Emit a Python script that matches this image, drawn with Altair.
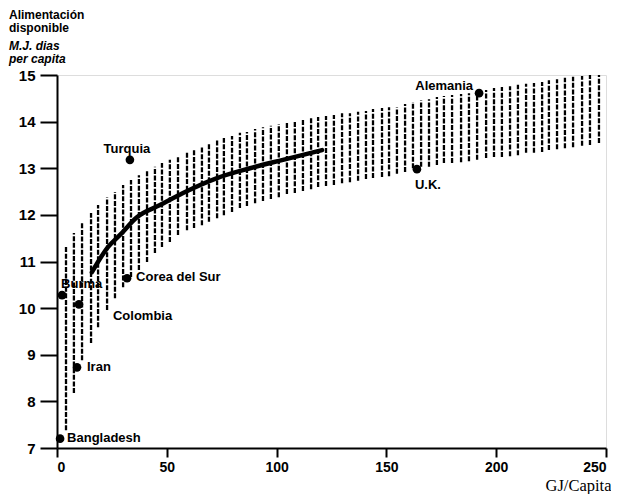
import altair as alt
import pandas as pd

# Hatched band: vertical strokes (x, lower, upper)
band_x = [4.1, 7.7, 11.4, 15.5, 18.7, 22.8, 26.4, 30.1, 33.7, 37.3, 41.0, 44.6, 47.8, 51.4,
          55.1, 59.2, 62.4, 66.0, 69.2, 72.9, 76.0, 79.7, 83.3, 86.5, 90.2, 93.8, 97.4, 101.0,
          104.7, 108.3, 112.0, 115.7, 118.9, 122.5, 126.1, 129.8, 133.4, 137.1, 140.7, 143.9,
          148.0, 151.2, 154.8, 158.5, 162.1, 165.8, 169.4, 173.0, 176.2, 179.9, 184.0, 187.6,
          191.3, 195.4, 199.0, 202.6, 206.3, 209.9, 213.6, 217.2, 220.9, 224.0, 227.7, 231.3,
          235.0, 239.1, 242.7, 246.8]
band_top = [11.31, 11.61, 11.82, 12.04, 12.21, 12.38, 12.49, 12.64, 12.75, 12.85, 12.94, 13.03,
            13.11, 13.18, 13.24, 13.33, 13.39, 13.45, 13.54, 13.61, 13.65, 13.69, 13.76, 13.78,
            13.84, 13.88, 13.91, 13.95, 13.97, 14.01, 14.06, 14.08, 14.10, 14.12, 14.14, 14.18,
            14.18, 14.21, 14.23, 14.27, 14.29, 14.31, 14.31, 14.38, 14.42, 14.46, 14.48, 14.53,
            14.55, 14.57, 14.59, 14.61, 14.64, 14.68, 14.72, 14.74, 14.76, 14.79, 14.81, 14.83,
            14.85, 14.89, 14.91, 14.94, 14.96, 14.98, 15.0, 15.0]
band_bottom = [7.38, 8.18, 8.88, 9.25, 9.59, 9.96, 10.21, 10.45, 10.67, 10.82, 10.99, 11.18,
               11.31, 11.42, 11.57, 11.67, 11.72, 11.78, 11.85, 11.93, 11.99, 12.06, 12.15, 12.19,
               12.25, 12.30, 12.34, 12.38, 12.45, 12.47, 12.51, 12.55, 12.60, 12.62, 12.64, 12.68,
               12.70, 12.73, 12.77, 12.79, 12.81, 12.83, 12.88, 12.92, 13.00, 13.03, 13.03, 13.07,
               13.11, 13.11, 13.13, 13.15, 13.18, 13.22, 13.24, 13.24, 13.26, 13.28, 13.33, 13.33,
               13.35, 13.39, 13.41, 13.43, 13.45, 13.48, 13.50, 13.54]

# Thick curve
curve_x = [15.9, 23.2, 28.7, 36.4, 46.9, 57.4, 72.9, 87.9, 102.9, 120.7]
curve_y = [10.77, 11.31, 11.57, 11.95, 12.21, 12.47, 12.79, 13.00, 13.18, 13.39]

# Countries
countries = ["Alemania", "U.K.", "Turquia", "Corea del Sur", "Burma", "Colombia", "Iran", "Bangladesh"]
country_x = [192.2, 163.9, 33.2, 31.9, 2.3, 10.0, 9.1, 1.4]
country_y = [14.61, 12.98, 13.18, 10.64, 10.28, 10.08, 8.73, 7.20]

x_ticks = [0, 50, 100, 150, 200, 250]
y_ticks = [7, 8, 9, 10, 11, 12, 13, 14, 15]

band_df = pd.DataFrame({"x": band_x, "lo": band_bottom, "hi": band_top})
curve_df = pd.DataFrame({"x": curve_x, "y": curve_y})
pts_df = pd.DataFrame({"name": countries, "x": country_x, "y": country_y})

xscale = alt.Scale(domain=[0, 250], nice=False, zero=False)
yscale = alt.Scale(domain=[7, 15], nice=False, zero=False)

xaxis = alt.Axis(values=x_ticks, title="GJ/Capita", titleFont="Liberation Serif",
                 titleFontSize=16.5, titleFontWeight="normal", titleColor="black",
                 titleAlign="right", titleAnchor="end", titleX=554, titleY=42,
                 titleBaseline="alphabetic", tickSize=9, labelPadding=3,
                 labelFont="Liberation Sans", labelFontSize=14, labelFontWeight="bold",
                 labelColor="black", domainColor="black", domainWidth=2,
                 tickColor="black", tickWidth=2, grid=False)
yaxis = alt.Axis(values=y_ticks, title=None, tickSize=17, labelPadding=5,
                 labelFont="Liberation Sans", labelFontSize=15, labelFontWeight="bold",
                 labelColor="black", domainColor="black", domainWidth=2,
                 tickColor="black", tickWidth=2, grid=False)

band = alt.Chart(band_df).mark_rule(color="black", strokeWidth=2.3, strokeDash=[5, 1.6]).encode(
    x=alt.X("x:Q", scale=xscale, axis=xaxis),
    y=alt.Y("lo:Q", scale=yscale, axis=yaxis),
    y2="hi:Q",
)

curve = alt.Chart(curve_df).mark_line(color="black", strokeWidth=4.5, interpolate="monotone",
                                      strokeCap="round").encode(
    x=alt.X("x:Q", scale=xscale), y=alt.Y("y:Q", scale=yscale))

points = alt.Chart(pts_df).mark_circle(color="black", opacity=1, size=75).encode(
    x=alt.X("x:Q", scale=xscale), y=alt.Y("y:Q", scale=yscale))

label_style = {
    "Alemania": dict(align="right", dx=-6, dy=-7),
    "U.K.": dict(align="left", dx=-2, dy=16),
    "Turquia": dict(align="center", dx=-3, dy=-11),
    "Corea del Sur": dict(align="left", dx=9, dy=-1),
    "Burma": dict(align="left", dx=-1, dy=-11),
    "Colombia": dict(align="left", dx=34, dy=12),
    "Iran": dict(align="left", dx=10, dy=0),
    "Bangladesh": dict(align="left", dx=7, dy=-1),
}

labels = []
for nm, st in label_style.items():
    labels.append(
        alt.Chart(pts_df).transform_filter(alt.datum.name == nm).mark_text(
            font="Liberation Sans", fontSize=13, fontWeight="bold", color="black",
            baseline="middle", **st
        ).encode(x=alt.X("x:Q", scale=xscale), y=alt.Y("y:Q", scale=yscale), text="name:N")
    )

chart = alt.layer(band, curve, points, *labels).properties(
    width=549, height=373,
    autosize=alt.AutoSizeParams(type="none"),
    padding={"left": 49, "top": 67, "right": 5, "bottom": 46},
    title=alt.TitleParams(
        text=["Alimentación", "disponible"],
        subtitle=["M.J. dias", "per capita"],
        anchor="start", frame="group", orient="top", dx=-48, offset=2,
        font="Liberation Sans", fontSize=12, fontWeight="bold", color="black", lineHeight=13,
        subtitleFont="Liberation Sans", subtitleFontSize=12, subtitleFontWeight="bold",
        subtitleFontStyle="italic", subtitleColor="black", subtitleLineHeight=13,
        subtitlePadding=6,
    ),
).configure_view(stroke="black", strokeWidth=2).configure(background="white")

chart.save("out.html", embed_options={"renderer": "svg", "actions": False})
